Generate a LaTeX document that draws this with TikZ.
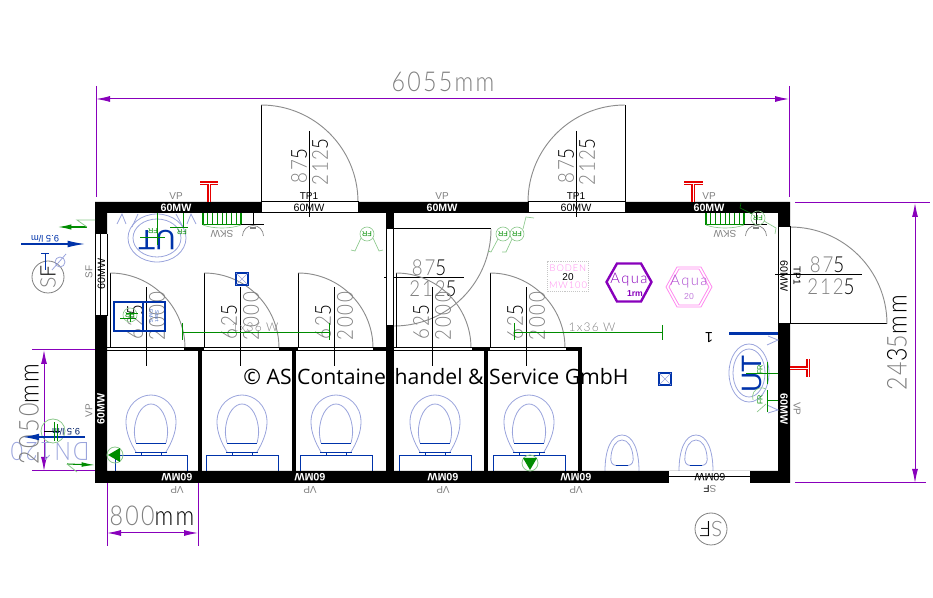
\documentclass[tikz,border=0pt]{standalone}
\usepackage{graphicx}
\usepackage{fontspec}
\setmainfont{Liberation Sans}
\newfontfamily\cadf[LetterSpace=10]{Lato Light}
\newfontfamily\copyf{Open Sans}
\usetikzlibrary{arrows.meta}
\definecolor{dimc}{HTML}{8800BB}
\definecolor{cadg}{HTML}{808080}
\definecolor{ubl}{HTML}{0033AA}
\definecolor{pbl}{HTML}{9AA4DC}
\definecolor{grn}{HTML}{008C00}
\definecolor{pgr}{HTML}{8CC88C}
\definecolor{pnk}{HTML}{FF88EE}
\newcommand\nw[1]{\scalebox{.85}[1]{#1}}
\newcommand\blk[1]{\textcolor{black}{#1}}
\tikzset{
  thin line/.style={line width=.75pt,black},
  wallfill/.style={fill=black,draw=none},
  dimline/.style={line width=.75pt,dimc},
  dimarrow/.style={line width=.75pt,dimc,{Latex[length=14pt*.75,width=6pt*.75]}-{Latex[length=14pt*.75,width=6pt*.75]}},
  swing/.style={line width=.7pt,cadg!90},
  dig/.style={inner sep=0,text=cadg,font=\cadf\fontsize{16.5}{16}\selectfont},
  big/.style={inner sep=0,text=cadg,font=\cadf\fontsize{20.5}{20}\selectfont},
  wmw/.style={inner sep=0,text=white,font=\bfseries\fontsize{8}{8}\selectfont},
  bmw/.style={inner sep=0,text=black,font=\fontsize{8}{8}\selectfont},
  lab/.style={inner sep=0,text=cadg,font=\fontsize{7.5}{8}\selectfont},
  frc/.style={inner sep=0,text=grn,font=\fontsize{5.5}{6}\selectfont},
  rail/.style={line width=.75pt,grn},
  redt/.style={line width=3pt,red!90!black},
  redi/.style={line width=.7pt,white},
  rim/.style={line width=.6pt,pbl},
  sq/.style={line width=.65pt,ubl},
}
\newcommand\wc[2]{%
 \begin{scope}[shift={(#1,0)}]
  \draw[rim] (-15,452) .. controls (-21,442) and (-25,432) .. (-25,422) .. controls (-25,405) and (-12,395) .. (0,395)
     .. controls (12,395) and (25,405) .. (25,422) .. controls (25,432) and (21,442) .. (15,452);
  \draw[rim] (-15,443) .. controls (-17,435) and (-17,430) .. (-16,425) .. controls (-14,412) and (-7,404) .. (0,404)
     .. controls (7,404) and (14,412) .. (16,425) .. controls (17,430) and (17,435) .. (15,443);
  \draw[sq] (-15,443) -- (15,443) (-16,452.5) -- (16,452.5) (-10,452.5) -- (-10,455) (10,452.5) -- (10,455);
  \draw[sq] (-36,455) rectangle (36,471);
 \end{scope}}
\newcommand\urin[1]{%
 \begin{scope}[shift={(#1,0)}]
  \draw[rim] (-17,471) .. controls (-17,450) and (-11,435) .. (0,435) .. controls (11,435) and (17,450) .. (17,471);
  \draw[rim] (-6,465.5) .. controls (-10,465) and (-12,462) .. (-11,456) .. controls (-10,447) and (-6,440) .. (0,440)
     .. controls (6,440) and (10,447) .. (11,456) .. controls (12,462) and (10,465) .. (6,465.5);
  \draw[sq] (-6,465.5) -- (6,465.5);
 \end{scope}}
\newcommand\innerdoor[2]{% hinge x, tag
  \draw[thin line] (#1,348) -- (#1,273);
  \draw[swing] (#1,273) arc[start angle=-90,end angle=0,radius=75];
  \draw[thin line] (#1+36,287) -- (#1+36,366);
  \node[dig,rotate=90] (a#2) at (#1+25,322) {\nw{62\blk{5}}};
  \node[dig,rotate=90] (b#2) at (#1+47,316) {\nw{2000}};
}
\newcommand\xsq[3]{%
  \draw[line width=.8pt,ubl] (#1-6,#2-6) rectangle (#1+6,#2+6);
  \draw[line width=.4pt,pbl] (#1-6,#2-6) -- (#1+6,#2+6) (#1-6,#2+6) -- (#1+6,#2-6);
}
\newcommand\fr[3]{%
  \draw[line width=.5pt,pgr] (#1,#2) circle[radius=7];
  \node[frc,rotate=180] (fr#3) at (#1,#2) {FR};
}
\newcommand\radiator[2]{%
  \draw[grn,line width=1.1pt] (#1,213) -- (#1,224.5) -- (#1+38,224.5) -- (#1+38,213);
  \foreach \k in {1,...,7} \draw[grn,line width=.5pt] (#1+\k*4.75,213) -- (#1+\k*4.75,224.5);
  \draw[pgr,line width=.5pt] (#1,225) .. controls (#1+10,229) and (#1+28,229) .. (#1+38,225);
  \node[lab,rotate=180] (sk#2) at (#1+19,234) {SKW};
  \draw[thin line] (#1+38,225) -- (#1+61,225) (#1+50,213) -- (#1+50,225);
  \draw[line width=.5pt,cadg] (#1+39.5,236) arc[start angle=180,end angle=360,radius=10.5];
  \fill[cadg] (#1+47,227.5) rectangle (#1+53,229.5);
}
\begin{document}
\begin{tikzpicture}[x=.75pt,y=-.75pt]
\useasboundingbox (0,0) rectangle (933,598);
% ---------- fixtures under the walls
\wc{151}{1}\wc{242}{2}\wc{336}{3}\wc{435}{4}\wc{529}{5}
\urin{622}\urin{696}
% ---------- door swings
\draw[thin line] (261,202) -- (261,105); \draw[swing] (261,105) arc[start angle=-90,end angle=0,radius=97];
\draw[thin line] (625,202) -- (625,105); \draw[swing] (625,105) arc[start angle=-90,end angle=-180,radius=97];
\draw[thin line] (309,131) -- (309,217); \draw[thin line] (576,131) -- (576,217);
\node[dig,rotate=90] (d1a) at (299,166) {\nw{87\blk{5}}};
\node[dig,rotate=90] (d1b) at (320,162) {\nw{212\blk{5}}};
\node[dig,rotate=90] (d2a) at (566,166) {\nw{87\blk{5}}};
\node[dig,rotate=90] (d2b) at (587,162) {\nw{212\blk{5}}};
% centre door
\draw[thin line] (392,229) -- (491,229);
\draw[swing] (491,229) arc[start angle=0,end angle=92,radius=97];
\draw[thin line] (384,278) -- (464,278);
\node[dig] (d3a) at (429,268) {\nw{87\blk{5}}};
\node[dig] (d3b) at (433,289) {\nw{212\blk{5}}};
% right door
\draw[thin line] (790,324) -- (887,324);
\draw[swing] (790,227) arc[start angle=-90,end angle=0,radius=97];
\draw[thin line] (775,275) -- (862,275);
\node[dig] (d4a) at (827,265) {\nw{87\blk{5}}};
\node[dig] (d4b) at (831,287) {\nw{212\blk{5}}};
% inner doors
\innerdoor{110}{1}\innerdoor{204}{2}\innerdoor{298}{3}\innerdoor{396}{4}\innerdoor{490}{5}
% ---------- partition
\draw[thin line] (107,348) -- (582,348) (107,351) -- (582,351);
\foreach \a/\b in {184/204,279/298,373/394,472/490,566/582} \fill[black] (\a,347.5) rectangle (\b,351);
\foreach \a/\b in {198/201.5,292/295.5,484/488,578/582} \fill[black] (\a,348) rectangle (\b,471);
% ---------- outer walls
\fill[black,even odd rule] (95,202) rectangle (790,483) (107,213) rectangle (778,471);
\fill[black] (386,213) rectangle (394,471);
% openings
\fill[white] (261,202) rectangle (358,213); \draw[thin line] (261,202) rectangle (358,213);
\fill[white] (528,202) rectangle (625,213); \draw[thin line] (528,202) rectangle (625,213);
\fill[white] (778,227) rectangle (790,324); \draw[thin line] (778,227) rectangle (790,324);
\fill[white] (386.5,229) rectangle (393,326); \draw[thin line] (386.5,229) rectangle (393,326);
\fill[white] (95,234) rectangle (107,316);
\draw[thin line] (95,234) -- (107,234) (95,316) -- (107,316) (100,234) -- (100,316) (107,234) -- (107,316) (95,234) -- (95,316);
\fill[white] (669,471) rectangle (750,483);
\draw[thin line] (669,476.5) -- (750,476.5) (750,471) -- (750,483);
% re-draw dimension lines crossing the openings
\draw[thin line] (309,202) -- (309,217) (576,202) -- (576,217) (775,275) -- (790,275);
% ---------- wall labels
\node[wmw] (w1) at (176,208) {60MW};
\node[wmw] (w2) at (442,208) {60MW};
\node[wmw] (w3) at (709,208) {60MW};
\node[bmw] (w4) at (309,208) {60MW};
\node[bmw] (w5) at (576,208) {60MW};
\node[bmw,rotate=90] (w6) at (101.5,274) {60MW};
\node[wmw,rotate=90] (w7) at (101,409) {60MW};
\node[wmw,rotate=-90] (w8) at (784,409) {60MW};
\node[bmw,rotate=-90] (w9) at (784,276) {60MW};
\foreach \x [count=\i] in {177,310,443,576} {
  \node[wmw,rotate=180] (wb\i) at (\x,477) {60MW};
  \node[lab,rotate=180] (vb\i) at (\x,490) {VP};
}
\node[bmw,rotate=180] (w10) at (710,477) {60MW};
\node[lab,rotate=180] (sf0) at (710,489) {S\blk{F}};
\node[lab] (vp1) at (176,196) {VP};
\node[lab] (vp2) at (442,196) {VP};
\node[lab] (vp3) at (709,196) {VP};
\node[lab,rotate=90] (vp4) at (89,411) {VP};
\node[lab,rotate=-90] (vp5) at (797,409) {VP};
\node[lab,rotate=90] (sf1) at (89,272) {SF};
\node[lab,text=black] (tp1) at (309,196) {TP1};
\node[lab,text=black] (tp2) at (576,196) {TP1};
\node[lab,text=black,rotate=-90] (tp3) at (797,276) {TP1};
% ---------- dimensions
\draw[dimline] (96,86) -- (96,197) (789,86) -- (789,197);
\draw[dimarrow] (96,99) -- (789,99);
\node[big] (t1) at (443,82) {\nw{6055mm}};
\draw[dimline] (795,203) -- (930,203) (795,483) -- (926,483);
\draw[dimarrow] (915,203) -- (915,483);
\node[big,rotate=90] (t2) at (897,343) {\nw{24\blk{3}5\blk{mm}}};
\draw[dimline] (32,350) -- (95,350) (32,471) -- (95,471);
\draw[dimarrow] (44,350) -- (44,471);
\node[inner sep=0,text=pbl,font=\cadf\fontsize{19}{19}\selectfont,rotate=180] (dn) at (50,451) {\nw{DN120}};
\node[big,rotate=90] (t3) at (29,414) {\nw{2050\blk{mm}}};
\draw[dimline] (107,483) -- (107,546) (198,483) -- (198,546);
\draw[dimarrow] (107,533) -- (198,533);
\node[big] (t4) at (152,516) {\nw{800\blk{mm}}};
% ---------- red T marks
\draw[redt] (209,183) -- (209,202); \draw[redt] (200,183) -- (218,183);
\draw[redi] (209,183) -- (209,202); \draw[redi] (200,183) -- (218,183);
\draw[redt] (693,183) -- (693,202); \draw[redt] (684,183) -- (703,183);
\draw[redi] (693,183) -- (693,202); \draw[redi] (684,183) -- (703,183);
\draw[redt] (790,368) -- (808,368); \draw[redt] (808,359) -- (808,377);
\draw[redi] (790,368) -- (808,368); \draw[redi] (808,359) -- (808,377);
% ---------- radiators
\radiator{203}{1}\radiator{706}{2}
% ---------- UT upper left
\draw[rim] (157,238) ellipse[x radius=29,y radius=24];
\draw[rim] (157,238) ellipse[x radius=24,y radius=19];
\draw[rim] (117,224) -- (122,214) -- (126,224) (132,227) -- (138,214) (176,214) -- (183,227) (187,224) -- (191,214) -- (196,224);
\node[inner sep=0,text=ubl,font=\fontsize{21}{21}\selectfont,rotate=180] (ut1) at (157,240) {UT};
\draw[rail] (157,213) -- (157,245) (140,238) -- (165,238) (183,213) -- (183,228) (170,228) -- (188,228);
\node[frc,rotate=180] (fra) at (153,231) {FR};
\node[frc,rotate=180] (frb) at (182,232) {FR};
% UT right
\draw[rim] (749,373) ellipse[x radius=20,y radius=29];
\draw[rim] (749,373) ellipse[x radius=16,y radius=24];
\draw[rim] (767,345) -- (778,340) -- (768,336) (767,405) -- (778,410) -- (768,413);
\node[inner sep=0,text=ubl,font=\fontsize{21}{21}\selectfont,rotate=90] (ut2) at (752,374) {UT};
\draw[rail] (746,374) -- (778,374) (767,362) -- (767,384) (767,401) -- (778,401) (767,390) -- (767,412);
\node[frc,rotate=90] (frc1) at (760,370) {FR};
\node[frc,rotate=90] (frc2) at (760,400) {FR};
\draw[pgr,line width=.5pt] (766,389) arc[start angle=-60,end angle=-200,radius=9] (757,412) -- (766,404);
\draw[ubl,line width=2.4pt] (729,333.5) -- (778,333.5);
\node[inner sep=0,font=\fontsize{11}{11}\selectfont,rotate=180] (one) at (709,338) {1};
% ---------- blue box with start label
\draw[ubl,line width=1pt] (114,302) rectangle (143,331);
\draw[ubl,line width=1.5pt] (143,302) rectangle (165,331);
\node[inner sep=0,text=ubl!70,font=\fontsize{4}{4.5}\selectfont,rotate=-90,align=center] (st) at (154,316.5) {Start\\EM-S};
\fr{130}{315}{a}
\draw[rail] (120,319) -- (136,319) (126,314) -- (138,314) (130,312) -- (130,322);
% ---------- squares
\xsq{242}{279}{1}\xsq{665}{379}{2}
% ---------- lighting
\draw[rail] (182,333) -- (329,333) (182,323) -- (182,340) (329,323) -- (329,340);
\draw[rail] (514,333) -- (662,333) (514,323) -- (514,340) (662,325) -- (662,340);
\node[lab,font=\cadf\fontsize{9}{9}\selectfont] (l1) at (255,327) {1x36 W};
\node[lab,font=\cadf\fontsize{9}{9}\selectfont] (l2) at (592,327) {1x36 W};
% ---------- FR detectors
\fr{367}{234}{b}\fr{503}{234}{c}\fr{517}{234}{d}\fr{758}{218}{e}
\draw[pgr,line width=.5pt] (361,238) -- (355,251) -- (351,250) (373,238) -- (379,251) -- (383,250);
\draw[pgr,line width=.5pt] (498,239) -- (491,252) -- (488,251) (512,239) -- (506,252) -- (502,252) (523,229) -- (526,217) -- (534,218);
\draw[grn!80!black,line width=.5pt] (752,214) -- (740,208) -- (741,203);
\draw[pgr,line width=.5pt] (764,221) -- (776,228) -- (775,234);
% ---------- Boden
\draw[line width=1pt,cadg!45,dash pattern=on .8pt off .8pt] (547.5,261.5) rectangle (588.5,291.5);
\node[inner sep=0,text=pnk,font=\cadf\fontsize{7}{7}\selectfont] (bo) at (568,268.5) {BODEN};
\node[inner sep=0,font=\fontsize{7.5}{8}\selectfont] (bn) at (568,277) {20};
\node[inner sep=0,text=pnk,font=\cadf\fontsize{7}{7}\selectfont] (bm) at (568,285.5) {MW100};
% ---------- Aqua
\draw[dimc,line width=1.8pt] (606.5,282) -- (617,263.5) -- (641,263.5) -- (651.5,282) -- (641,301.5) -- (617,301.5) -- cycle;
\node[inner sep=0,text=dimc,font=\cadf\fontsize{11}{11}\selectfont] (aq1) at (629,280) {Aqua};
\node[inner sep=0,text=dimc,font=\bfseries\fontsize{6.5}{7}\selectfont] (aq2) at (635,294) {1rm};
\draw[pnk,line width=.6pt] (666,287) -- (677,267) -- (701,267) -- (712,287) -- (701,307) -- (677,307) -- cycle;
\draw[pnk,line width=.6pt] (669,287) -- (679,269) -- (699,269) -- (709,287) -- (699,305) -- (679,305) -- cycle;
\node[inner sep=0,text=dimc!70,font=\cadf\fontsize{11}{11}\selectfont] (aq3) at (689,282) {Aqua};
\node[inner sep=0,text=dimc!50,font=\fontsize{6.5}{7}\selectfont] (aq4) at (689,297) {20};
% ---------- left side symbols
\draw[grn,line width=.8pt,-{Latex[length=10pt,width=4pt]}] (87,227) -- (58,227);
\draw[pgr,line width=.6pt] (87,227) -- (77,220) -- (95,220);
\draw[ubl,line width=.8pt,-{Latex[length=13pt,width=5pt]}] (21,244) -- (85,244);
\node[inner sep=0,text=ubl,font=\fontsize{7}{7}\selectfont,rotate=180] (q1) at (45,239) {9.5 l/m};
\draw[line width=.6pt,cadg] (48,277) circle[radius=16];
\node[lab,font=\cadf\fontsize{16}{16}\selectfont,rotate=90] (sf2) at (48,277) {S\blk{F}};
\draw[ubl,line width=.6pt] (45,253) -- (45,270) (41,253) -- (49,253);
\draw[rim] (60,262) circle[radius=5] (52,270) -- (66,254);
\draw[pgr,line width=.6pt] (53,431) circle[radius=12];
\draw[ubl,line width=.8pt,-{Latex[length=12pt,width=5pt]}] (85,437) -- (23,437);
\draw[thin line,line width=.5pt] (44,431) -- (60,431);
\draw[rail] (54,422) -- (54,441) (57,424) -- (57,441);
\node[inner sep=0,text=ubl!60!black,font=\fontsize{7}{7}\selectfont,rotate=180] (q2) at (66,432) {9.5 l/m};
\draw[grn,line width=.8pt,-{Latex[length=10pt,width=3.5pt]}] (67,464) -- (95,465);
\draw[pgr,line width=.6pt] (67,464) -- (77,472);
% green triangles
\draw[pgr,line width=.6pt] (115,455) circle[radius=8];
\fill[grn] (108,455) -- (120,448) -- (120,462) -- cycle;
\draw[pgr,line width=.6pt] (530,463) circle[radius=8];
\fill[grn] (523,458) -- (537,458) -- (530,470) -- cycle;
% ---------- SF bottom
\draw[line width=.6pt,cadg] (711,529) circle[radius=16];
\node[lab,font=\cadf\fontsize{16}{16}\selectfont,rotate=180] (sf3) at (711,529) {S\blk{F}};
% ---------- copyright
\node[inner sep=0,font=\copyf\fontsize{15.9}{16}\selectfont] (copy) at (436,377) {© AS Containerhandel \& Service GmbH};
\end{tikzpicture}
\end{document}
